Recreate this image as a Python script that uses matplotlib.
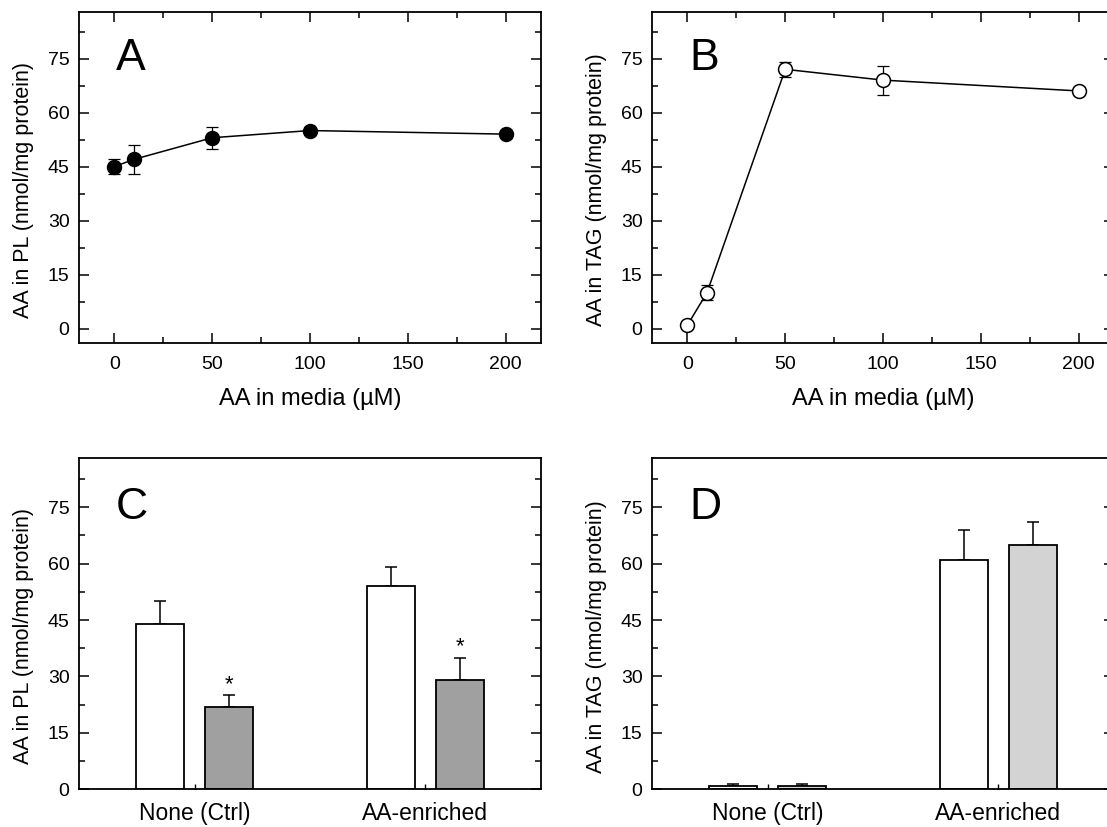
import matplotlib
matplotlib.use('Agg')
import matplotlib.pyplot as plt
import matplotlib.transforms as mtransforms
from matplotlib.ticker import MultipleLocator, FixedLocator

plt.rcParams['font.family'] = ['Liberation Sans', 'DejaVu Sans']

# ---- data ----
conc = [0, 10, 50, 100, 200]
pl_mean = [45, 47, 53, 55, 54]
pl_err = [2, 4, 3, 1, 1]
tag_mean = [1, 10, 72, 69, 66]
tag_err = [1, 2, 2, 4, 1]

groups = ['None (Ctrl)', 'AA-enriched']
pl_white = [44, 54]
pl_white_err = [6, 5]
pl_gray = [22, 29]
pl_gray_err = [3, 6]
tag_white = [1.0, 61]
tag_white_err = [0.3, 8]
tag_gray = [0.8, 65]
tag_gray_err = [0.5, 6]

yticks = [0, 15, 30, 45, 60, 75]
xticks_line = [0, 50, 100, 150, 200]

W, H = 1107, 827
def rect(l, r, t, b):
    return [l / W, 1 - b / H, (r - l) / W, (b - t) / H]

fig = plt.figure(figsize=(W / 100, H / 100), dpi=100)
axA = fig.add_axes(rect(79.3, 540.7, 11.7, 343.0))
axB = fig.add_axes(rect(652.3, 1113.7, 11.7, 343.0))
axC = fig.add_axes(rect(79.3, 540.7, 458.3, 789.3))
axD = fig.add_axes(rect(652.3, 1113.7, 458.3, 789.3))

LW = 1.3
TICKFS = 14
XLABFS = 17
YLABFS = 15.5

def common(ax):
    for s in ax.spines.values():
        s.set_linewidth(LW)
    ax.yaxis.set_major_locator(FixedLocator(yticks))
    ax.yaxis.set_minor_locator(MultipleLocator(7.5))
    ax.tick_params(axis='y', which='both', direction='in', left=True, right=True, width=1.1)
    ax.tick_params(axis='y', which='major', length=7, labelsize=TICKFS, pad=7)
    ax.tick_params(axis='y', which='minor', length=4.2)

def letter(ax, s):
    tr = mtransforms.blended_transform_factory(ax.transAxes, ax.transData)
    ax.text(0.08, 75, s, transform=tr, fontsize=32, ha='left', va='center')

def ylab(ax, s):
    ax.set_ylabel(s, fontsize=YLABFS, labelpad=10)
    ax.yaxis.set_label_coords(ax.yaxis.label.get_position()[0], 0.462)
    ax.yaxis.label.set_y(0.462)

def line_panel(ax, y, yerr, filled, ylabel, let):
    common(ax)
    ax.set_xlim(-18, 218)
    ax.set_ylim(-4, 88)
    ax.xaxis.set_major_locator(FixedLocator(xticks_line))
    ax.xaxis.set_minor_locator(MultipleLocator(25))
    ax.tick_params(axis='x', which='both', direction='in', bottom=True, top=True, width=1.1)
    ax.tick_params(axis='x', which='major', length=7, labelsize=TICKFS, pad=9)
    ax.tick_params(axis='x', which='minor', length=4.2)
    ax.errorbar(conc, y, yerr=yerr, fmt='none', ecolor='black', elinewidth=0.9,
                capsize=4, capthick=0.9, zorder=2)
    ax.plot(conc, y, '-o', color='black', lw=1.1, ms=10,
            mfc='black' if filled else 'white', mec='black', mew=1.1, zorder=3)
    ax.set_xlabel('AA in media (µM)', fontsize=XLABFS, labelpad=11)
    ax.set_ylabel(ylabel, fontsize=YLABFS, labelpad=10)
    letter(ax, let)

def bar_panel(ax, white, white_err, gray, gray_err, gray_color, ylabel, let, stars):
    common(ax)
    ax.set_xlim(-0.5, 1.5)
    ax.set_ylim(0, 88)
    xs = list(range(len(groups)))
    off = 0.149
    bw = 0.208
    xw = [x - off for x in xs]
    xg = [x + off for x in xs]
    ax.bar(xw, white, width=bw, color='white', edgecolor='black', linewidth=LW, zorder=2)
    ax.bar(xg, gray, width=bw, color=gray_color, edgecolor='black', linewidth=LW, zorder=2)
    ax.errorbar(xw, white, yerr=[[0] * len(white), white_err], fmt='none', ecolor='black',
                elinewidth=1.1, capsize=4.3, capthick=1.1, zorder=1)
    ax.errorbar(xg, gray, yerr=[[0] * len(gray), gray_err], fmt='none', ecolor='black',
                elinewidth=1.1, capsize=4.3, capthick=1.1, zorder=1)
    if stars:
        for x, v, e in zip(xg, gray, gray_err):
            ax.annotate('*', xy=(x, v + e), xytext=(0, 4.0), textcoords='offset points',
                        ha='center', va='baseline', fontsize=16)
    ax.set_xticks(xs)
    ax.set_xticklabels(groups)
    ax.tick_params(axis='x', which='major', direction='in', length=3.5, width=1.0,
                   labelsize=16.5, pad=9, top=False)
    ax.set_ylabel(ylabel, fontsize=YLABFS, labelpad=10)
    letter(ax, let)

line_panel(axA, pl_mean, pl_err, True, 'AA in PL (nmol/mg protein)', 'A')
line_panel(axB, tag_mean, tag_err, False, 'AA in TAG (nmol/mg protein)', 'B')
bar_panel(axC, pl_white, pl_white_err, pl_gray, pl_gray_err, '#a0a0a0',
          'AA in PL (nmol/mg protein)', 'C', True)
bar_panel(axD, tag_white, tag_white_err, tag_gray, tag_gray_err, '#d3d3d3',
          'AA in TAG (nmol/mg protein)', 'D', False)

for ax in (axA, axB, axC, axD):
    ax.yaxis.label.set_y(0.462)
    ax.yaxis.label.set_va('bottom')

fig.savefig('out.png', dpi=100)
